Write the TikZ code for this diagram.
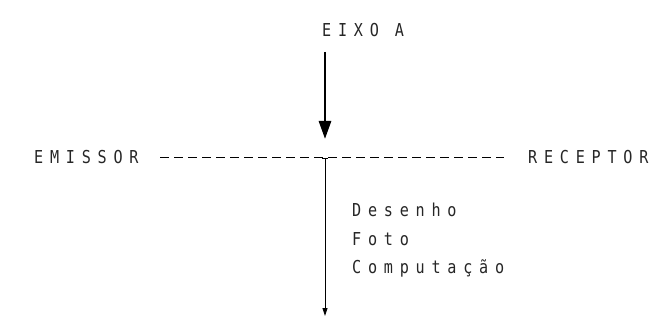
\documentclass[tikz,border=0pt]{standalone}
\usepackage{fontspec}
\usetikzlibrary{arrows.meta}
% narrow, widely spaced typewriter-like lettering
\newfontfamily\plotfont[FakeStretch=0.85,LetterSpace=38]{DejaVu Sans Mono}
\tikzset{
  label/.style={font=\plotfont\fontsize{17.8}{20}\selectfont, inner sep=0pt, anchor=base west, text=black!85},
  axisarrow/.style={line width=2.8pt, -{Triangle[length=18pt,width=12pt]}},
  outarrow/.style={line width=0.9pt, -{Triangle[length=8pt,width=5pt]}},
  beam/.style={line width=1pt, dash pattern=on 8.5pt off 5.5pt},
}
\begin{document}
\begin{tikzpicture}[x=1pt,y=-1pt]
  \useasboundingbox (0,0) rectangle (653,331);
  % labels
  \node[label] (eixo) at (322,37) {EIXO A};
  \node[label] (emissor) at (34,163.5) {EMISSOR};
  \node[label] (receptor) at (528,163.5) {RECEPTOR};
  \node[label] (desenho) at (352,216) {Desenho};
  \node[label] (foto) at (352,245) {Foto};
  \node[label] (comp) at (352,273) {Computação};
  % reference points on the axis
  \coordinate (atop) at (325,52);
  \coordinate (ahead) at (325,139);
  \coordinate (cross) at (325,158);
  \coordinate (bottom) at (325,316);
  \coordinate (bstart) at (160,158);
  \coordinate (bend) at (504,158);
  % incoming axis
  \draw[axisarrow] (atop) -- (ahead);
  % emitter to receiver line
  \draw[beam] (bstart) -- (bend);
  % outgoing branch with its small top tick
  \draw[line width=0.9pt] ([xshift=-3pt]cross) -- ([xshift=3pt]cross);
  \draw[outarrow] (cross) -- (bottom);
\end{tikzpicture}
\end{document}
